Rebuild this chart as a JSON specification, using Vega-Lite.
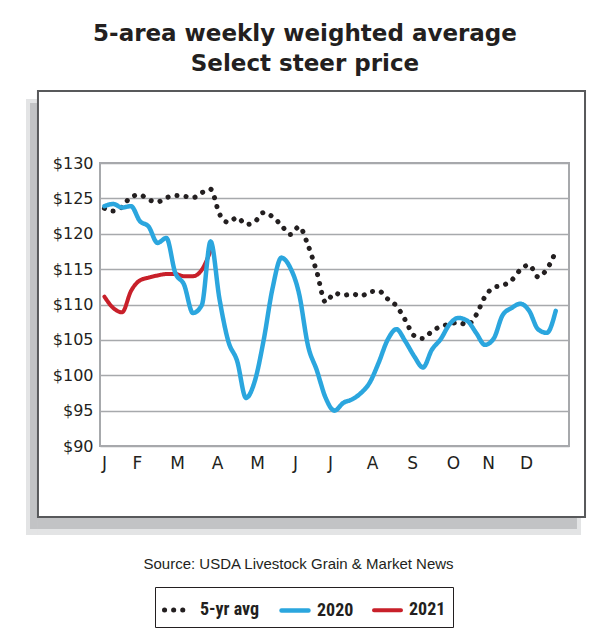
{
  "$schema": "https://vega.github.io/schema/vega-lite/v6.json",
  "width": 469,
  "height": 283,
  "autosize": {"type": "none"},
  "padding": {"left": 100, "top": 163, "right": 41, "bottom": 184},
  "background": "white",
  "title": {
    "text": ["5-area weekly weighted average", "Select steer price"],
    "anchor": "middle",
    "dx": -29.5,
    "offset": 14,
    "font": "DejaVu Sans",
    "fontSize": 23,
    "fontWeight": "bold",
    "lineHeight": 30,
    "color": "#231f20"
  },
  "config": {
    "view": {"stroke": "#a7a9ac", "strokeWidth": 2},
    "legend": {
      "orient": "none",
      "legendX": 55,
      "legendY": 424,
      "direction": "horizontal",
      "strokeColor": "#231f20",
      "fillColor": "white",
      "padding": 7,
      "symbolType": "stroke",
      "symbolSize": 729,
      "symbolStrokeWidth": 5,
      "labelFont": "Liberation Sans Narrow, Roboto Condensed, Liberation Sans",
      "labelFontSize": 18,
      "labelFontWeight": "bold",
      "labelColor": "#231f20",
      "labelOffset": 6,
      "columnPadding": 12
    }
  },
  "resolve": {"axis": {"x": "independent", "y": "independent"}},
  "data": {
    "values": [
      {"series": "5-yr avg", "wk": 1, "price": 123.6},
      {"series": "5-yr avg", "wk": 2, "price": 123.2},
      {"series": "5-yr avg", "wk": 3, "price": 123.8},
      {"series": "5-yr avg", "wk": 4, "price": 125.2},
      {"series": "5-yr avg", "wk": 5, "price": 125.5},
      {"series": "5-yr avg", "wk": 6, "price": 124.8},
      {"series": "5-yr avg", "wk": 7, "price": 124.5},
      {"series": "5-yr avg", "wk": 8, "price": 125.1},
      {"series": "5-yr avg", "wk": 9, "price": 125.4},
      {"series": "5-yr avg", "wk": 10, "price": 125.3},
      {"series": "5-yr avg", "wk": 11, "price": 125.1},
      {"series": "5-yr avg", "wk": 12, "price": 125.8},
      {"series": "5-yr avg", "wk": 13, "price": 126.3},
      {"series": "5-yr avg", "wk": 14, "price": 122.8},
      {"series": "5-yr avg", "wk": 15, "price": 121.6},
      {"series": "5-yr avg", "wk": 16, "price": 122.3},
      {"series": "5-yr avg", "wk": 17, "price": 121.3},
      {"series": "5-yr avg", "wk": 18, "price": 121.7},
      {"series": "5-yr avg", "wk": 19, "price": 123.0},
      {"series": "5-yr avg", "wk": 20, "price": 122.4},
      {"series": "5-yr avg", "wk": 21, "price": 121.2},
      {"series": "5-yr avg", "wk": 22, "price": 119.9},
      {"series": "5-yr avg", "wk": 23, "price": 121.0},
      {"series": "5-yr avg", "wk": 24, "price": 118.4},
      {"series": "5-yr avg", "wk": 25, "price": 114.6},
      {"series": "5-yr avg", "wk": 26, "price": 110.3},
      {"series": "5-yr avg", "wk": 27, "price": 111.6},
      {"series": "5-yr avg", "wk": 28, "price": 111.3},
      {"series": "5-yr avg", "wk": 29, "price": 111.5},
      {"series": "5-yr avg", "wk": 30, "price": 111.2},
      {"series": "5-yr avg", "wk": 31, "price": 111.8},
      {"series": "5-yr avg", "wk": 32, "price": 111.9},
      {"series": "5-yr avg", "wk": 33, "price": 110.8},
      {"series": "5-yr avg", "wk": 34, "price": 109.8},
      {"series": "5-yr avg", "wk": 35, "price": 107.8},
      {"series": "5-yr avg", "wk": 36, "price": 105.6},
      {"series": "5-yr avg", "wk": 37, "price": 105.2},
      {"series": "5-yr avg", "wk": 38, "price": 106.2},
      {"series": "5-yr avg", "wk": 39, "price": 106.9},
      {"series": "5-yr avg", "wk": 40, "price": 107.2},
      {"series": "5-yr avg", "wk": 41, "price": 107.5},
      {"series": "5-yr avg", "wk": 42, "price": 107.1},
      {"series": "5-yr avg", "wk": 43, "price": 108.5},
      {"series": "5-yr avg", "wk": 44, "price": 111.1},
      {"series": "5-yr avg", "wk": 45, "price": 112.4},
      {"series": "5-yr avg", "wk": 46, "price": 112.7},
      {"series": "5-yr avg", "wk": 47, "price": 113.4},
      {"series": "5-yr avg", "wk": 48, "price": 114.9},
      {"series": "5-yr avg", "wk": 49, "price": 115.6},
      {"series": "5-yr avg", "wk": 50, "price": 113.9},
      {"series": "5-yr avg", "wk": 51, "price": 115.0},
      {"series": "5-yr avg", "wk": 52, "price": 117.5},
      {"series": "2021", "wk": 1, "price": 111.1},
      {"series": "2021", "wk": 2, "price": 109.5},
      {"series": "2021", "wk": 3, "price": 108.9},
      {"series": "2021", "wk": 4, "price": 111.9},
      {"series": "2021", "wk": 5, "price": 113.4},
      {"series": "2021", "wk": 6, "price": 113.8},
      {"series": "2021", "wk": 7, "price": 114.1},
      {"series": "2021", "wk": 8, "price": 114.3},
      {"series": "2021", "wk": 9, "price": 114.3},
      {"series": "2021", "wk": 10, "price": 114.0},
      {"series": "2021", "wk": 11, "price": 114.0},
      {"series": "2021", "wk": 12, "price": 114.9},
      {"series": "2021", "wk": 13, "price": 117.6},
      {"series": "2020", "wk": 1, "price": 123.9},
      {"series": "2020", "wk": 2, "price": 124.2},
      {"series": "2020", "wk": 3, "price": 123.7},
      {"series": "2020", "wk": 4, "price": 123.9},
      {"series": "2020", "wk": 5, "price": 121.8},
      {"series": "2020", "wk": 6, "price": 121.0},
      {"series": "2020", "wk": 7, "price": 118.7},
      {"series": "2020", "wk": 8, "price": 119.4},
      {"series": "2020", "wk": 9, "price": 114.5},
      {"series": "2020", "wk": 10, "price": 112.8},
      {"series": "2020", "wk": 11, "price": 108.8},
      {"series": "2020", "wk": 12, "price": 109.9},
      {"series": "2020", "wk": 13, "price": 118.9},
      {"series": "2020", "wk": 14, "price": 110.8},
      {"series": "2020", "wk": 15, "price": 104.8},
      {"series": "2020", "wk": 16, "price": 102.0},
      {"series": "2020", "wk": 17, "price": 96.8},
      {"series": "2020", "wk": 18, "price": 99.2},
      {"series": "2020", "wk": 19, "price": 105.0},
      {"series": "2020", "wk": 20, "price": 112.3},
      {"series": "2020", "wk": 21, "price": 116.6},
      {"series": "2020", "wk": 22, "price": 115.2},
      {"series": "2020", "wk": 23, "price": 111.5},
      {"series": "2020", "wk": 24, "price": 104.2},
      {"series": "2020", "wk": 25, "price": 100.7},
      {"series": "2020", "wk": 26, "price": 96.8},
      {"series": "2020", "wk": 27, "price": 95.0},
      {"series": "2020", "wk": 28, "price": 96.1},
      {"series": "2020", "wk": 29, "price": 96.6},
      {"series": "2020", "wk": 30, "price": 97.5},
      {"series": "2020", "wk": 31, "price": 99.0},
      {"series": "2020", "wk": 32, "price": 101.8},
      {"series": "2020", "wk": 33, "price": 105.0},
      {"series": "2020", "wk": 34, "price": 106.5},
      {"series": "2020", "wk": 35, "price": 104.8},
      {"series": "2020", "wk": 36, "price": 102.7},
      {"series": "2020", "wk": 37, "price": 101.1},
      {"series": "2020", "wk": 38, "price": 103.6},
      {"series": "2020", "wk": 39, "price": 105.1},
      {"series": "2020", "wk": 40, "price": 107.2},
      {"series": "2020", "wk": 41, "price": 108.1},
      {"series": "2020", "wk": 42, "price": 107.7},
      {"series": "2020", "wk": 43, "price": 106.0},
      {"series": "2020", "wk": 44, "price": 104.3},
      {"series": "2020", "wk": 45, "price": 105.2},
      {"series": "2020", "wk": 46, "price": 108.5},
      {"series": "2020", "wk": 47, "price": 109.5},
      {"series": "2020", "wk": 48, "price": 110.1},
      {"series": "2020", "wk": 49, "price": 109.1},
      {"series": "2020", "wk": 50, "price": 106.5},
      {"series": "2020", "wk": 51, "price": 106.0},
      {"series": "2020", "wk": 52, "price": 109.1}
    ]
  },
  "layer": [
    {
      "data": {"values": [{}]},
      "mark": {"type": "rect", "color": "#e3e4e5", "clip": false},
      "encoding": {
        "x": {"datum": -7.86, "type": "quantitative", "axis": null, "scale": {"domain": [0.5, 53.5], "nice": false, "zero": false}},
        "x2": {"datum": -6.51},
        "y": {"datum": 139.05, "type": "quantitative", "axis": null, "scale": {"domain": [90, 130], "nice": false, "zero": false}},
        "y2": {"datum": 77.42}
      }
    },
    {
      "data": {"values": [{}]},
      "mark": {"type": "rect", "color": "#e3e4e5", "clip": false},
      "encoding": {
        "x": {"datum": -6.51, "type": "quantitative", "axis": null},
        "x2": {"datum": 54.86},
        "y": {"datum": 79.96, "type": "quantitative", "axis": null},
        "y2": {"datum": 77.42}
      }
    },
    {
      "data": {"values": [{}]},
      "mark": {"type": "rect", "color": "#c2c3c5", "clip": false},
      "encoding": {
        "x": {"datum": -7.41, "type": "quantitative", "axis": null},
        "x2": {"datum": -6.51},
        "y": {"datum": 138.48, "type": "quantitative", "axis": null},
        "y2": {"datum": 78.27}
      }
    },
    {
      "data": {"values": [{}]},
      "mark": {"type": "rect", "color": "#c2c3c5", "clip": false},
      "encoding": {
        "x": {"datum": -6.51, "type": "quantitative", "axis": null},
        "x2": {"datum": 54.4},
        "y": {"datum": 79.96, "type": "quantitative", "axis": null},
        "y2": {"datum": 78.27}
      }
    },
    {
      "data": {"values": [{}]},
      "mark": {"type": "rect", "filled": false, "stroke": "#58595b", "strokeWidth": 2, "clip": false},
      "encoding": {
        "x": {"datum": -6.51, "type": "quantitative", "axis": null},
        "x2": {"datum": 55.31},
        "y": {"datum": 140.18, "type": "quantitative", "axis": null},
        "y2": {"datum": 79.96}
      }
    },
    {
      "mark": {"type": "line", "interpolate": "monotone", "strokeCap": "round", "strokeJoin": "round"},
      "encoding": {
        "x": {
          "field": "wk",
          "type": "quantitative",
          "scale": {"domain": [0.5, 53.5], "nice": false, "zero": false},
          "axis": {
            "values": [0.95, 4.68, 9.2, 13.72, 18.24, 22.54, 26.49, 31.24, 35.76, 40.39, 44.35, 48.64],
            "labelExpr": "['J','F','M','A','M','J','J','A','S','O','N','D'][floor(datum.value/4.3333)]",
            "grid": false,
            "domain": false,
            "ticks": false,
            "labelFlush": false,
            "labelOverlap": false,
            "labelPadding": 9,
            "labelFont": "DejaVu Sans",
            "labelFontSize": 17,
            "labelColor": "#231f20",
            "title": "Source: USDA Livestock Grain & Market News",
            "titleFont": "Liberation Sans",
            "titleFontSize": 15,
            "titleFontWeight": "normal",
            "titleColor": "#231f20",
            "titlePadding": 85,
            "titleX": 198
          }
        },
        "y": {
          "field": "price",
          "type": "quantitative",
          "scale": {"domain": [90, 130], "nice": false, "zero": false},
          "axis": {
            "values": [90, 95, 100, 105, 110, 115, 120, 125, 130],
            "labelExpr": "'$' + datum.value",
            "labelOverlap": false,
            "labelFlush": false,
            "grid": true,
            "gridColor": "#a7a9ac",
            "gridWidth": 1.5,
            "domain": false,
            "ticks": false,
            "labelPadding": 7,
            "labelFont": "DejaVu Sans",
            "labelFontSize": 16,
            "labelColor": "#231f20",
            "title": null
          }
        },
        "color": {
          "field": "series",
          "type": "nominal",
          "scale": {"domain": ["5-yr avg", "2020", "2021"], "range": ["#231f20", "#2ba6de", "#c8202a"]},
          "legend": {"title": null, "encode": {"symbols": {"update": {"strokeCap": {"value": "round"}}}}}
        },
        "strokeDash": {
          "field": "series",
          "type": "nominal",
          "scale": {"domain": ["5-yr avg", "2020", "2021"], "range": [[0.1, 9], [1, 0], [1, 0]]},
          "legend": {"title": null}
        },
        "strokeWidth": {
          "field": "series",
          "type": "nominal",
          "scale": {"domain": ["5-yr avg", "2020", "2021"], "range": [5, 4, 4]},
          "legend": null
        }
      }
    }
  ]
}
